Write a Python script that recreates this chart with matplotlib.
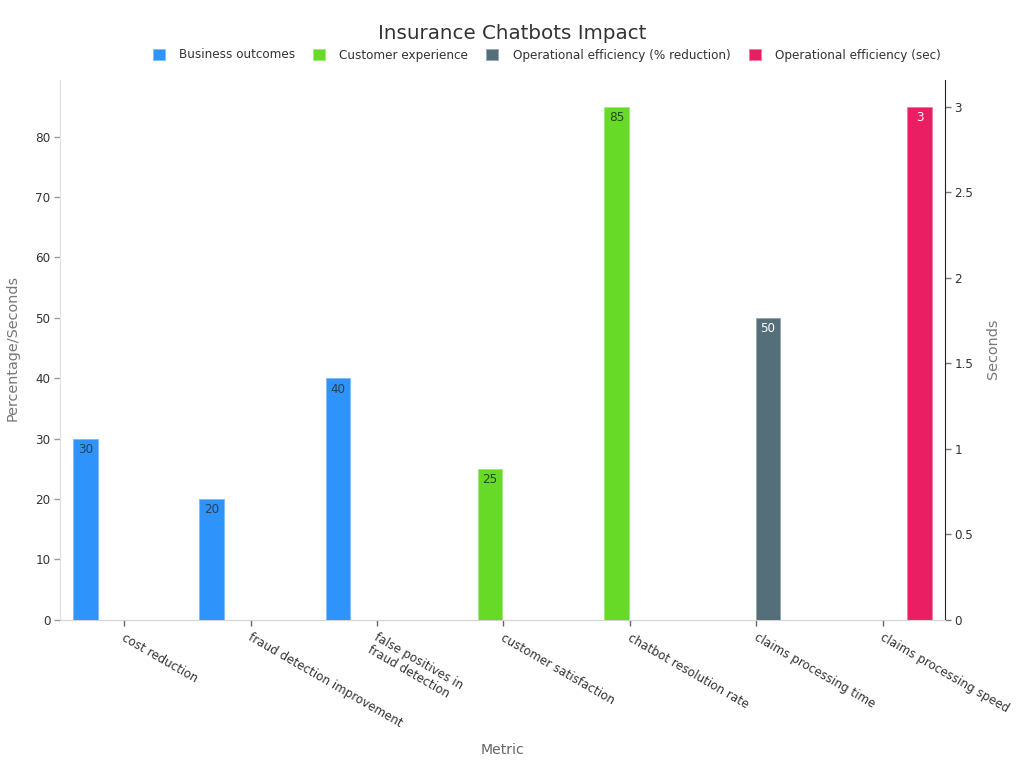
import numpy as np
import matplotlib
matplotlib.use("Agg")
import matplotlib.pyplot as plt
from matplotlib.patches import Patch
from matplotlib.transforms import ScaledTranslation

title = "Insurance Chatbots Impact"
categories = ["cost reduction", "fraud detection improvement", "false positives in\nfraud detection",
              "customer satisfaction", "chatbot resolution rate", "claims processing time",
              "claims processing speed"]
nan = float("nan")
business = [30, 20, 40, nan, nan, nan, nan]
customer = [nan, nan, nan, 25, 85, nan, nan]
oper_pct = [nan, nan, nan, nan, nan, 50, nan]
oper_sec = [nan, nan, nan, nan, nan, nan, 3]
series_names = ["Business outcomes", "Customer experience",
                "Operational efficiency (% reduction)", "Operational efficiency (sec)"]
colors = ["#2E93FA", "#66DA26", "#546E7A", "#E91E63"]
edges = ["#7FBDFC", "#A3E97D", "#98A8AF", "#F279A1"]
label_colors = ["#2B3F55", "#2B4A1A", "#FFFFFF", "#FFFFFF"]
left_ticks = [0, 10, 20, 30, 40, 50, 60, 70, 80]
right_ticks = [0, 0.5, 1, 1.5, 2, 2.5, 3]
right_tick_labels = ["0", "0.5", "1", "1.5", "2", "2.5", "3"]

W, H = 1024, 768
plt.rcParams["font.family"] = "DejaVu Sans"
FS = 12 * 72 / 100
fig = plt.figure(figsize=(W / 100, H / 100), dpi=100, facecolor="white")
ax = fig.add_axes([60 / W, 1 - 619.6 / H, 885 / W, 539.6 / H])
ax2 = ax.twinx()
ax.set_zorder(ax2.get_zorder() + 1)
ax.patch.set_visible(False)

x = np.arange(len(categories))
step = 0.2
bw = 0.194
for j, (vals, target) in enumerate(zip([business, customer, oper_pct, oper_sec], [ax, ax, ax, ax2])):
    pos = x + (j - 1.5) * step
    target.bar(pos, vals, width=bw, color=colors[j], edgecolor=edges[j], linewidth=0.7, zorder=3)
    for px, v in zip(pos, vals):
        if not np.isnan(v):
            target.annotate(f"{v:g}", (px, v), xytext=(0, -7.9), textcoords="offset points",
                            ha="center", va="center", fontsize=FS, color=label_colors[j], zorder=4)

ax.set_xlim(-0.5, len(categories) - 0.5)
ax.set_ylim(0, 539.6 / (513 / 85))
ax2.set_ylim(0, 539.6 / (513 / 3))

ax.set_xticks(x + 0.007)
ax.set_xticklabels(categories, rotation=-30, ha="left", va="top", rotation_mode="anchor",
                   fontsize=11.85 * 72 / 100, color="#333333", linespacing=1.1, multialignment="left")
ax.tick_params(axis="x", length=4.3, width=1, color="#666666", pad=4)
shift = ScaledTranslation(2 / 100, 0, fig.dpi_scale_trans)
for lab in ax.get_xticklabels():
    lab.set_transform(lab.get_transform() + shift)
ax.set_yticks(left_ticks)
ax.tick_params(axis="y", length=4.3, width=1, color="#999999", labelsize=FS, labelcolor="#333333", pad=2.5)
ax2.set_yticks(right_ticks)
ax2.set_yticklabels(right_tick_labels)
ax2.tick_params(axis="y", length=4.3, width=1, color="#777777", labelsize=FS, labelcolor="#333333", pad=2.5)

for a in (ax, ax2):
    a.spines["top"].set_visible(False)
    a.spines["left"].set_color("#E3E3E3")
    a.spines["bottom"].set_color("#D4D4D4")
    a.spines["right"].set_color("#222222")
    a.spines["left"].set_linewidth(0.8)
    a.spines["bottom"].set_linewidth(0.8)
    a.spines["right"].set_linewidth(0.8)
ax.spines["right"].set_visible(False)

LAB = 14 * 72 / 100
ax.set_xlabel("Metric", fontsize=LAB, color="#666666")
ax.xaxis.set_label_coords((502 - 60) / 885, -(750 - 620) / 540)
ax.xaxis.label.set_va("center")
ax.set_ylabel("Percentage/Seconds", fontsize=14.4 * 72 / 100, color="#777777")
ax.yaxis.set_label_coords((13 - 60) / 885, (620 - 348.5) / 540)
ax.yaxis.label.set_va("center")
ax2.set_ylabel("Seconds", fontsize=14.4 * 72 / 100, color="#777777")
ax2.yaxis.set_label_coords((993.5 - 60) / 885, (620 - 349) / 540)
ax2.yaxis.label.set_va("center")

fig.text(512.5 / W, 1 - 33.5 / H, title, ha="center", va="center", fontsize=19.85 * 72 / 100, color="#333333")

handles = [Patch(facecolor=c, edgecolor=e, linewidth=0.6) for c, e in zip(colors, edges)]
fig.legend(handles, series_names, loc="center", bbox_to_anchor=(546.5 / W, 1 - 55 / H), ncol=4,
           frameon=False, fontsize=FS, handlelength=1.0, handleheight=1.0, handletextpad=1.17,
           columnspacing=1.53, borderpad=0, borderaxespad=0, labelcolor="#333333")

fig.savefig("out.png", dpi=100, facecolor="white")
